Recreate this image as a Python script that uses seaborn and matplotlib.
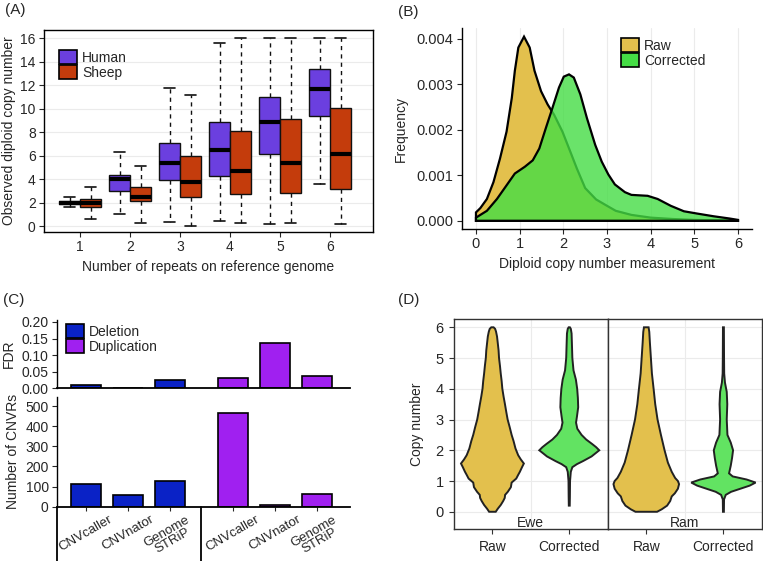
import numpy as np
import pandas as pd
import matplotlib
matplotlib.use("Agg")
import matplotlib.pyplot as plt
import matplotlib.transforms as mtransforms
from matplotlib.patches import Patch
import seaborn as sns

# ---------------- (A) box summaries: low whisker, Q1, median, Q3, high whisker
repeats = ["1", "2", "3", "4", "5", "6"]
human_box = [
    [1.6, 1.85, 2.0, 2.15, 2.45],
    [1.0, 3.0, 4.0, 4.35, 6.35],
    [0.35, 3.9, 5.4, 7.1, 11.8],
    [0.4, 4.3, 6.5, 8.85, 15.6],
    [0.2, 6.1, 8.9, 11.0, 16.0],
    [3.6, 9.4, 11.7, 13.35, 16.0],
]
sheep_box = [
    [0.6, 1.65, 2.0, 2.35, 3.35],
    [0.3, 2.1, 2.5, 3.3, 5.1],
    [0.0, 2.45, 3.75, 5.95, 11.2],
    [0.25, 2.7, 4.7, 8.1, 16.0],
    [0.3, 2.85, 5.35, 9.1, 16.0],
    [0.2, 3.15, 6.1, 10.05, 16.0],
]

# ---------------- (B) density curves (frequency in units of 0.001)
raw_x = [0, 0.1, 0.25, 0.4, 0.55, 0.7, 0.82, 0.89, 0.97, 1.1, 1.23, 1.34, 1.49,
         1.64, 1.79, 1.98, 2.16, 2.31, 2.5, 2.75, 3.0, 3.2, 3.56, 4.0, 4.5, 5.0,
         5.5, 6.0]
raw_freq = [0.185, 0.28, 0.48, 0.85, 1.37, 1.96, 2.7, 3.3, 3.81, 4.05, 3.81, 3.3,
            2.85, 2.56, 2.33, 1.96, 1.52, 1.15, 0.72, 0.47, 0.33, 0.22, 0.13,
            0.07, 0.04, 0.02, 0.01, 0.005]
corr_x = [0, 0.25, 0.48, 0.7, 0.89, 1.12, 1.3, 1.45, 1.6, 1.75, 1.9, 2.01, 2.13,
          2.24, 2.39, 2.54, 2.73, 2.88, 3.03, 3.18, 3.41, 3.56, 3.93, 4.16, 4.46,
          4.76, 5.06, 5.44, 5.81, 6.0]
corr_freq = [0.07, 0.22, 0.48, 0.78, 1.04, 1.19, 1.33, 1.59, 2.04, 2.48, 2.93,
             3.17, 3.22, 3.15, 2.78, 2.26, 1.67, 1.3, 1.02, 0.8, 0.63, 0.57, 0.55,
             0.48, 0.33, 0.21, 0.16, 0.10, 0.05, 0.02]

# ---------------- (C) caller results
callers = ["CNVcaller", "CNVnator", "Genome\nSTRiP"]
del_fdr = [0.011, 0.0, 0.024]
dup_fdr = [0.030, 0.138, 0.037]
del_count = [113, 58, 130]
dup_count = [467, 8, 62]

# ---------------- (D) violin outlines: copy number, half width
ewe_raw_y = [0, 0.1, 0.22, 0.35, 0.45, 0.55, 0.65, 0.8, 0.95, 1.08, 1.2, 1.3, 1.45,
             1.57, 1.7, 1.84, 2.06, 2.3, 2.5, 2.75, 3.0, 3.25, 3.5, 3.75, 4.0, 4.25,
             4.5, 4.75, 5.0, 5.25, 5.5, 5.7, 5.86, 5.95, 6.0]
ewe_raw_w = [0.043, 0.07, 0.108, 0.14, 0.16, 0.165, 0.2, 0.24, 0.25, 0.31, 0.335,
             0.357, 0.385, 0.409, 0.37, 0.335, 0.3, 0.275, 0.25, 0.225, 0.198, 0.18,
             0.163, 0.145, 0.129, 0.12, 0.108, 0.098, 0.086, 0.08, 0.069, 0.06,
             0.047, 0.035, 0.015]
ewe_corr_y = [0.2, 0.5, 1.0, 1.3, 1.45, 1.55, 1.65, 1.8, 1.9, 2.0, 2.1, 2.2, 2.35,
              2.5, 2.7, 2.9, 3.1, 3.4, 3.7, 4.0, 4.3, 4.6, 5.0, 5.5, 5.8, 5.95, 6.0]
ewe_corr_w = [0.006, 0.008, 0.01, 0.02, 0.04, 0.1, 0.18, 0.29, 0.34, 0.39, 0.35,
              0.3, 0.22, 0.16, 0.105, 0.088, 0.1, 0.116, 0.112, 0.103, 0.086, 0.055,
              0.04, 0.034, 0.03, 0.02, 0.008]
ram_raw_y = [0, 0.08, 0.2, 0.35, 0.5, 0.6, 0.75, 0.9, 1.0, 1.1, 1.3, 1.6, 2.0, 2.5,
             3.0, 3.5, 4.0, 4.5, 5.0, 5.5, 5.85, 6.0]
ram_raw_w = [0.14, 0.2, 0.27, 0.31, 0.33, 0.37, 0.41, 0.425, 0.41, 0.374, 0.33, 0.28,
             0.237, 0.19, 0.146, 0.116, 0.095, 0.073, 0.06, 0.047, 0.039, 0.03]
ram_corr_y = [0, 0.4, 0.55, 0.65, 0.75, 0.85, 0.95, 1.05, 1.15, 1.25, 1.5, 1.75, 2.0,
              2.25, 2.5, 3.0, 3.5, 3.9, 4.2, 4.5, 5.0, 6.0]
ram_corr_w = [0.006, 0.008, 0.03, 0.1, 0.22, 0.34, 0.417, 0.3, 0.12, 0.073, 0.095,
              0.112, 0.125, 0.095, 0.052, 0.043, 0.05, 0.043, 0.02, 0.01, 0.008, 0.006]

HUMAN, SHEEP = "#6B3FDF", "#C43C0C"
GOLD, GREEN = "#E3C04D", "#62E362"
B_GREEN = "#45DD45"
DEL_C, DUP_C = "#0A22C6", "#A020F0"
GRID = "#EBEBEB"

sns.set_theme(style="ticks")
plt.rcParams["font.family"] = ["Liberation Sans", "DejaVu Sans"]
plt.rcParams.update({
    "axes.labelsize": 10, "xtick.labelsize": 10, "ytick.labelsize": 10,
    "xtick.major.size": 3.5, "ytick.major.size": 3.5,
    "xtick.major.width": 0.8, "ytick.major.width": 0.8,
    "xtick.major.pad": 2.5, "ytick.major.pad": 2.5,
    "axes.edgecolor": "black", "axes.linewidth": 1.0,
})

fig = plt.figure(figsize=(7.63, 5.61), dpi=100)
W, H = 763, 561


def px_axes(left, top, right, bottom):
    return fig.add_axes([left / W, 1 - bottom / H, (right - left) / W, (bottom - top) / H])


def square_legend(ax, labels, colors, **kw):
    handles = [Patch(facecolor=c, edgecolor="black", linewidth=1.2) for c in colors]
    return ax.legend(handles, labels, frameon=False, handlelength=1.3, handleheight=1.25,
                     handletextpad=0.35, labelspacing=0.0, borderaxespad=0, **kw)


# ================= (A) =================
axA = px_axes(44, 30, 373, 232)
rows = []
for i, rep in enumerate(repeats):
    for sp, stats in (("Human", human_box), ("Sheep", sheep_box)):
        for v in stats[i]:
            rows.append({"repeats": rep, "species": sp, "copy": v})
df_box = pd.DataFrame(rows)
sns.boxplot(data=df_box, x="repeats", y="copy", hue="species",
            palette={"Human": HUMAN, "Sheep": SHEEP}, saturation=1, whis=(0, 100),
            width=0.84, linecolor="#111111", linewidth=1.0, legend=False, ax=axA,
            medianprops={"linewidth": 3, "color": "black"},
            whiskerprops={"linestyle": (0, (3, 3))},
            capprops={"linewidth": 1.2})
axA.set_xlim(-0.72, 5.86)
axA.set_ylim(-0.5, 16.7)
axA.set_yticks(range(0, 17, 2))
axA.grid(axis="y", color=GRID, lw=0.8)
axA.set_axisbelow(True)
axA.set_xlabel("Number of repeats on reference genome", fontsize=10)
axA.set_ylabel("Observed diploid copy number", fontsize=10, labelpad=3)
square_legend(axA, ["Human", "Sheep"], [HUMAN, SHEEP], loc="upper left",
              bbox_to_anchor=(0.03, 0.93), fontsize=10)

# ================= (B) =================
axB = px_axes(462, 28, 752, 229)
rx = [0] + raw_x + [6]
ry = [0] + [f / 1000 for f in raw_freq] + [0]
cx = [0] + corr_x + [6]
cy = [0] + [f / 1000 for f in corr_freq] + [0]
axB.fill(rx, ry, facecolor=GOLD, edgecolor="black", linewidth=1.6, zorder=2)
axB.fill(cx, cy, facecolor=B_GREEN, alpha=0.8, edgecolor="none", zorder=3)
axB.fill(cx, cy, facecolor="none", edgecolor="black", linewidth=1.6, zorder=4)
axB.set_xlim(-0.32, 6.32)
axB.set_ylim(-0.00018, 0.00424)
axB.set_xticks(range(7))
axB.set_yticks([0, 0.001, 0.002, 0.003, 0.004])
axB.set_yticklabels(["0.000", "0.001", "0.002", "0.003", "0.004"])
axB.tick_params(labelsize=10.5)
axB.grid(axis="x", color=GRID, lw=0.8)
axB.set_axisbelow(True)
sns.despine(ax=axB)
axB.set_xlabel("Diploid copy number measurement", fontsize=10)
axB.set_ylabel("Frequency", fontsize=10, labelpad=6)
square_legend(axB, ["Raw", "Corrected"], [GOLD, B_GREEN], loc="upper left",
              bbox_to_anchor=(0.53, 0.98), fontsize=10)

# ================= (C) =================
pos = [0, 1, 2, 3.5, 4.5, 5.5]
df_c = pd.DataFrame({
    "pos": pos,
    "type": ["Deletion"] * 3 + ["Duplication"] * 3,
    "fdr": del_fdr + dup_fdr,
    "count": del_count + dup_count,
})
pal_c = {"Deletion": DEL_C, "Duplication": DUP_C}

axC1 = px_axes(57, 320, 350, 388.3)
axC2 = px_axes(57, 397, 350, 506.7)
for ax, col in ((axC1, "fdr"), (axC2, "count")):
    sns.barplot(data=df_c, x="pos", y=col, hue="type", palette=pal_c, saturation=1,
                native_scale=True, dodge=False, width=0.7, errorbar=None,
                edgecolor="black", linewidth=1.2, legend=False, ax=ax)
    ax.set_xlim(-0.69, 6.29)
    sns.despine(ax=ax)
    ax.tick_params(labelsize=10)

axC1.set_ylim(0, 0.206)
axC1.set_yticks([0, 0.05, 0.10, 0.15, 0.20])
axC1.set_yticklabels(["0.00", "0.05", "0.10", "0.15", "0.20"])
axC1.set_xticks([])
axC1.spines["bottom"].set_linewidth(1.3)
axC1.set_xlabel("")
axC1.set_ylabel("FDR", fontsize=10, labelpad=4)
square_legend(axC1, ["Deletion", "Duplication"], [DEL_C, DUP_C], loc="upper left",
              bbox_to_anchor=(0.012, 1.03), fontsize=10)

axC2.set_ylim(0, 545)
axC2.set_yticks(range(0, 501, 100))
axC2.set_xticks(pos)
axC2.set_xticklabels(callers * 2, rotation=30, ha="center", va="top",
                     multialignment="center", linespacing=0.9, fontsize=9.5)
axC2.tick_params(axis="x", length=3, pad=2)
axC2.spines["bottom"].set_linewidth(1.3)
axC2.set_xlabel("")
axC2.set_ylabel("Number of CNVRs", fontsize=10, labelpad=4)
trans = mtransforms.blended_transform_factory(axC2.transData, axC2.transAxes)
for xv in (-0.69, 2.75):
    axC2.plot([xv, xv], [0, -0.5], transform=trans, color="black", lw=1.3,
              clip_on=False)

# ================= (D) =================
axD1 = px_axes(454, 319, 607.7, 529.3)
axD2 = px_axes(607.7, 319, 762, 529.3)
violins = {
    "Ewe": ((ewe_raw_y, ewe_raw_w), (ewe_corr_y, ewe_corr_w)),
    "Ram": ((ram_raw_y, ram_raw_w), (ram_corr_y, ram_corr_w)),
}
for ax, (name, (raw_v, corr_v)) in zip((axD1, axD2), violins.items()):
    for xc, (ys, ws), col in ((1, raw_v, GOLD), (2, corr_v, GREEN)):
        ys = np.asarray(ys)
        ws = np.asarray(ws)
        xs = np.concatenate([xc - ws, (xc + ws)[::-1]])
        yy = np.concatenate([ys, ys[::-1]])
        ax.fill(xs, yy, facecolor=col, edgecolor="#222222", linewidth=1.4, zorder=3)
    ax.set_xlim(0.5, 2.5)
    ax.set_ylim(-0.57, 6.27)
    ax.set_yticks(range(7))
    ax.set_xticks([1, 2])
    ax.set_xticklabels(["Raw", "Corrected"], fontsize=10)
    ax.grid(axis="y", color=GRID, lw=0.8)
    ax.axvline(1.5, color=GRID, lw=0.8, zorder=0)
    ax.set_axisbelow(True)
    for s in ax.spines.values():
        s.set_color("#333333")
        s.set_linewidth(1.0)
    ax.tick_params(color="#333333", pad=4)
    ax.text(1.5, -0.36, name, ha="center", va="center", fontsize=10)
axD1.set_ylabel("Copy number", fontsize=10, labelpad=8)
axD1.tick_params(axis="y", labelsize=10.5)
axD2.tick_params(axis="y", left=False, labelleft=False)

# panel letters
for lab, x, y in (("(A)", 5, 10), ("(B)", 398, 12), ("(C)", 3, 300), ("(D)", 398, 300)):
    fig.text(x / W, 1 - y / H, lab, fontsize=11, ha="left", va="center")

fig.savefig("out.png", dpi=100)
